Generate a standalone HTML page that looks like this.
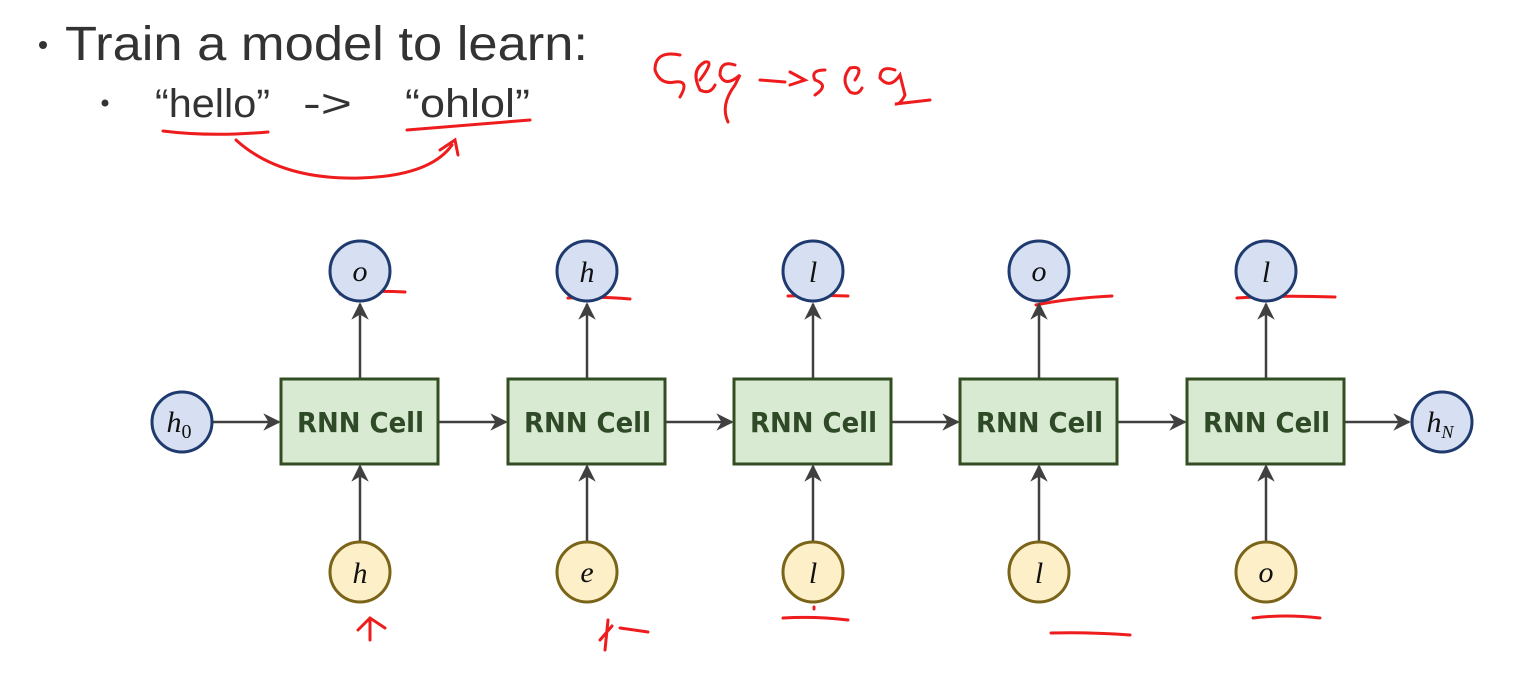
<!DOCTYPE html>
<html><head><meta charset="utf-8"><style>
body{margin:0;background:#fff;width:1535px;height:668px;overflow:hidden}
</style></head><body>
<svg width="1535" height="668" viewBox="0 0 1535 668" xmlns="http://www.w3.org/2000/svg">
<defs><marker id="a" viewBox="0 0 10 10" refX="9" refY="5" markerWidth="7" markerHeight="7" orient="auto"><path d="M0,0 L10,5 L0,10 L3,5 z" fill="#404040"/></marker></defs>
<g font-family="Liberation Sans, sans-serif" fill="#333">
<circle cx="43" cy="45" r="4" fill="#333"/>
<text x="65" y="60" font-size="48" textLength="523" lengthAdjust="spacingAndGlyphs">Train a model to learn:</text>
<circle cx="105" cy="103" r="3.5" fill="#333"/>
<text x="155" y="117" font-size="40" textLength="115" lengthAdjust="spacingAndGlyphs">“hello”</text>
<text x="303" y="117" font-size="40" textLength="49" lengthAdjust="spacingAndGlyphs">-&gt;</text>
<text x="405" y="117" font-size="40" textLength="125" lengthAdjust="spacingAndGlyphs">“ohlol”</text>
</g>
<g fill="none" stroke="#ee1c1c" stroke-width="3" stroke-linecap="round">
<path d="M163,131 Q210,137 268,132"/>
<path d="M407,130 Q470,125 530,120"/>
<path d="M236,140 Q280,180 360,178 Q430,176 452,145"/>
<path d="M440,150 L455,140 L458,155"/>
<path d="M680,55 Q655,50 655,70 Q660,85 675,82 Q690,80 680,97"/>
<path d="M700,80 Q715,60 705,62 Q690,70 700,90 Q710,95 715,85"/>
<path d="M735,65 Q720,60 720,75 Q725,88 740,75 L735,85 Q720,105 728,122"/>
<path d="M760,80 L785,82"/><path d="M790,72 L805,80 L790,85"/>
<path d="M825,70 Q810,70 815,80 Q830,85 815,95"/>
<path d="M855,80 Q865,65 850,68 Q840,80 850,92 Q858,96 862,88"/>
<path d="M895,70 Q880,65 880,78 Q890,90 900,75 L905,95 Q900,105 895,104 L930,100"/>
<path d="M340,294 Q370,290 405,292"/>
<path d="M568,298 Q600,296 630,299"/>
<path d="M788,296 Q820,295 848,296"/>
<path d="M1036,305 Q1070,298 1112,296"/>
<path d="M1237,298 Q1280,295 1335,297"/>
<path d="M370,640 L370,620"/><path d="M358,630 L370,618 L385,628"/>
<path d="M605,650 L608,620 M600,640 L612,626 M620,628 L648,632"/>
<path d="M783,618 Q815,616 848,620"/><path d="M814,607 L814,609"/>
<path d="M1051,633 Q1090,632 1130,635"/>
<path d="M1253,618 Q1285,614 1320,618"/>
</g>
<g stroke="#404040" stroke-width="2.5" marker-end="url(#a)">
<line x1="213" y1="422" x2="279" y2="422"/>
<line x1="439" y1="422" x2="506" y2="422"/>
<line x1="666" y1="422" x2="732" y2="422"/>
<line x1="892" y1="422" x2="958" y2="422"/>
<line x1="1118" y1="422" x2="1185" y2="422"/>
<line x1="1345" y1="422" x2="1409" y2="422"/>
<line x1="360" y1="378" x2="360" y2="304"/><line x1="360" y1="541" x2="360" y2="466"/>
<line x1="587" y1="378" x2="587" y2="304"/><line x1="587" y1="541" x2="587" y2="466"/>
<line x1="813" y1="378" x2="813" y2="304"/><line x1="813" y1="541" x2="813" y2="466"/>
<line x1="1039" y1="378" x2="1039" y2="304"/><line x1="1039" y1="541" x2="1039" y2="466"/>
<line x1="1266" y1="378" x2="1266" y2="304"/><line x1="1266" y1="541" x2="1266" y2="466"/>
</g>
<g fill="#d9ead3" stroke="#334d22" stroke-width="3">
<rect x="281" y="379" width="157" height="85"/><rect x="508" y="379" width="157" height="85"/>
<rect x="734" y="379" width="157" height="85"/><rect x="960" y="379" width="157" height="85"/>
<rect x="1187" y="379" width="157" height="85"/>
</g>
<g font-family="DejaVu Sans, Liberation Sans, sans-serif" font-weight="bold" font-size="28" fill="#2f4a26">
<text x="297" y="432" textLength="127" lengthAdjust="spacingAndGlyphs">RNN Cell</text>
<text x="524" y="432" textLength="127" lengthAdjust="spacingAndGlyphs">RNN Cell</text>
<text x="750" y="432" textLength="127" lengthAdjust="spacingAndGlyphs">RNN Cell</text>
<text x="976" y="432" textLength="127" lengthAdjust="spacingAndGlyphs">RNN Cell</text>
<text x="1203" y="432" textLength="127" lengthAdjust="spacingAndGlyphs">RNN Cell</text>
</g>
<g fill="#d6e0f2" stroke="#1f3a6e" stroke-width="3">
<circle cx="360" cy="271" r="30"/><circle cx="587" cy="271" r="30"/><circle cx="813" cy="271" r="30"/><circle cx="1039" cy="271" r="30"/><circle cx="1266" cy="271" r="30"/>
<circle cx="182" cy="422" r="30"/><circle cx="1442" cy="422" r="30"/>
</g>
<g fill="#fdefc8" stroke="#7a6418" stroke-width="3">
<circle cx="360" cy="572" r="30"/><circle cx="587" cy="572" r="30"/><circle cx="813" cy="572" r="30"/><circle cx="1039" cy="572" r="30"/><circle cx="1266" cy="572" r="30"/>
</g>
<g font-family="Liberation Serif, serif" font-style="italic" font-size="30" fill="#111" text-anchor="middle">
<text x="360" y="281">o</text><text x="587" y="282">h</text><text x="813" y="282">l</text><text x="1039" y="281">o</text><text x="1266" y="282">l</text>
<text x="360" y="583">h</text><text x="587" y="582">e</text><text x="813" y="583">l</text><text x="1039" y="583">l</text><text x="1266" y="582">o</text>
<text x="179" y="432">h<tspan font-style="normal" font-size="20" dy="6">0</tspan></text>
<text x="1440" y="432">h<tspan font-size="18" dy="6">N</tspan></text>
</g>
</svg>
</body></html>
